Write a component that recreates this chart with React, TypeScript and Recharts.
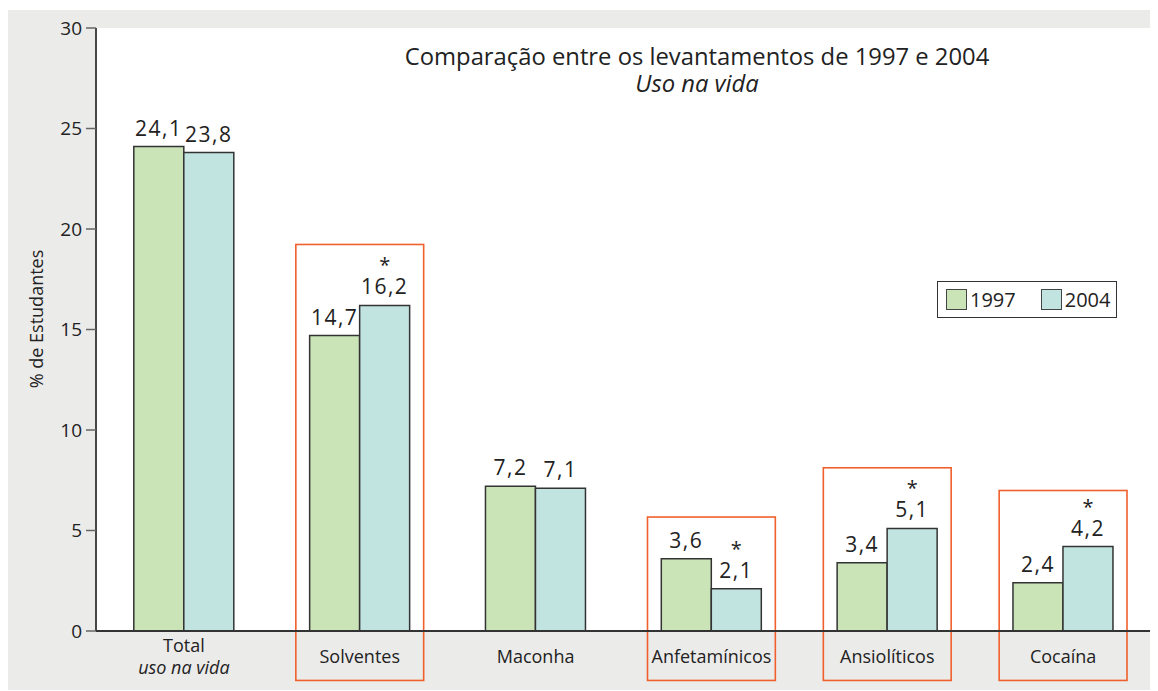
import React from "react";
import {
  BarChart, Bar, XAxis, YAxis, CartesianGrid, LabelList,
  ReferenceArea, Customized,
} from "recharts";

const categories = ["Total", "Solventes", "Maconha", "Anfetamínicos", "Ansiolíticos", "Cocaína"];
const values1997 = [24.1, 14.7, 7.2, 3.6, 3.4, 2.4];
const values2004 = [23.8, 16.2, 7.1, 2.1, 5.1, 4.2];
const starred2004 = [false, true, false, true, true, true];
const yTicks = [0, 5, 10, 15, 20, 25, 30];
const edgeTicks = [0, 1, 2, 3, 4, 5, 6];
const seriesNames = ["1997", "2004"];

// highlighted categories: red frames (top / bottom in axis units)
const boxCategories = ["Solventes", "Anfetamínicos", "Ansiolíticos", "Cocaína"];
const boxTops = [19.23, 5.67, 8.12, 6.99];
const boxBottom = -2.46;

const GREEN = "#cae4b8";
const TEAL = "#c2e4e1";
const RED = "#f0602c";
const FONT = "'Open Sans', 'Noto Sans', sans-serif";

const data = categories.map((c, i) => ({
  name: c,
  v1997: values1997[i],
  v2004: values2004[i],
  star: starred2004[i],
}));

const fmt = (v: number) => v.toFixed(1).replace(".", ",");

const ValueLabel = (props: any) => {
  const { x, y, width, value, index, star } = props;
  const cx = x + width / 2;
  return (
    <g>
      {star && data[index].star && (
        <text x={cx} y={y - 33} textAnchor="middle" fontSize={20} fill="#222" fontFamily={FONT}>*</text>
      )}
      <text x={cx} y={y - 11} textAnchor="middle" fontSize={21} fill="#222"
        fontFamily={FONT} letterSpacing={1.5}>
        {fmt(value)}
      </text>
    </g>
  );
};

const CategoryTick = (props: any) => {
  const { x, y, payload } = props;
  if (payload.value === "Total") {
    return (
      <g>
        <text x={x} y={y + 13} textAnchor="middle" fontSize={18} fill="#222" fontFamily={FONT}>Total</text>
        <text x={x} y={y + 35} textAnchor="middle" fontSize={18} fill="#222" fontFamily={FONT} fontStyle="italic">uso na vida</text>
      </g>
    );
  }
  return (
    <text x={x} y={y + 24} textAnchor="middle" fontSize={18} fill="#222" fontFamily={FONT}>{payload.value}</text>
  );
};

const FrameShape = (props: any) => {
  const { x, y, width, height } = props;
  const inset = 24;
  return (
    <rect x={x + inset} y={y} width={width - inset * 2} height={height}
      fill="none" stroke={RED} strokeWidth={1.6} />
  );
};

const LegendBox = () => (
  <div style={{
    position: "absolute", left: 930, top: 271,
    border: "1.5px solid #333", background: "#fff", width: 180, height: 37,
    display: "flex", alignItems: "center", fontFamily: FONT, fontSize: 20, color: "#222",
    boxSizing: "border-box",
  }}>
    <span style={{ width: 19, height: 19, background: GREEN, border: "1px solid #444", marginLeft: 8, marginRight: 3 }} />
    <span>{seriesNames[0]}</span>
    <span style={{ width: 19, height: 19, background: TEAL, border: "1px solid #444", marginLeft: 25, marginRight: 3 }} />
    <span>{seriesNames[1]}</span>
  </div>
);

const Titles = () => (
  <g fontFamily={FONT} fill="#222">
    <text x={690} y={55} textAnchor="middle" fontSize={23.8}>Comparação entre os levantamentos de 1997 e 2004</text>
    <text x={690} y={82} textAnchor="middle" fontSize={23.8} fontStyle="italic">Uso na vida</text>
    <text x={36} y={309} textAnchor="middle" fontSize={18} transform="rotate(-90 36 309)">% de Estudantes</text>
  </g>
);

export default function App() {
  return (
    <div style={{ width: 1151, height: 680, background: "#ebebea", marginLeft: -1, marginTop: 2, position: "relative" }}>
      <BarChart
        width={1151}
        height={680}
        data={data}
        margin={{ top: 18, right: 7, bottom: 0, left: 0 }}
        barCategoryGap="21.5%"
        barGap={0}
      >
        <CartesianGrid fill="#ffffff" stroke="none" horizontal={false} vertical={false} />
        <XAxis xAxisId="edge" type="number" domain={[0, 6]} ticks={edgeTicks} height={0}
          tick={false} axisLine={false} tickLine={{ stroke: "#555", strokeWidth: 1.5 }} tickSize={10} />
        <XAxis dataKey="name" height={59} tickLine={false}
          axisLine={{ stroke: "#333", strokeWidth: 1.8 }} tick={<CategoryTick />} interval={0} />
        <YAxis width={89} domain={[0, 30]} ticks={yTicks} interval={0}
          axisLine={{ stroke: "#333", strokeWidth: 1.8 }}
          tickLine={{ stroke: "#666", strokeWidth: 1.5 }} tickSize={10} tickMargin={4}
          tick={{ fontSize: 19, fill: "#222", fontFamily: FONT }} />
        <Bar dataKey="v1997" name={seriesNames[0]} fill={GREEN} stroke="#333" strokeWidth={1.5} isAnimationActive={false}>
          <LabelList dataKey="v1997" content={<ValueLabel />} />
        </Bar>
        <Bar dataKey="v2004" name={seriesNames[1]} fill={TEAL} stroke="#333" strokeWidth={1.5} isAnimationActive={false}>
          <LabelList dataKey="v2004" content={<ValueLabel star />} />
        </Bar>
        {boxCategories.map((c, i) => (
          <ReferenceArea key={c} x1={c} x2={c} y1={boxBottom} y2={boxTops[i]}
            ifOverflow="visible" shape={<FrameShape />} />
        ))}
        <Customized component={<Titles />} />
      </BarChart>
      <LegendBox />
    </div>
  );
}
